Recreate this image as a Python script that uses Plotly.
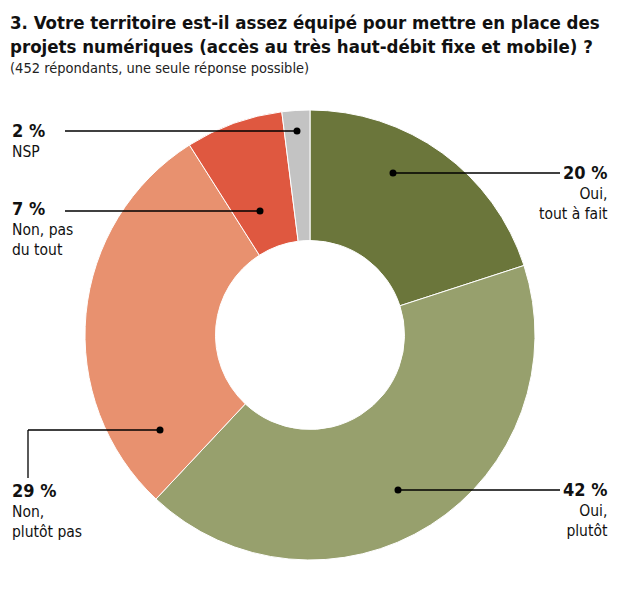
import plotly.graph_objects as go

labels = ["Oui, tout à fait", "Oui, plutôt", "Non, plutôt pas", "Non, pas du tout", "NSP"]
values = [20, 42, 29, 7, 2]
colors = ["#6b763b", "#97a06d", "#e8916f", "#df5840", "#c3c3c3"]

W, H = 640, 598
OFF = 8
def px(x, y):
    return (x - OFF) / W, 1 - (y - OFF) / H

fig = go.Figure(go.Pie(values=values, labels=labels, sort=False, direction="clockwise",
                       rotation=0, hole=0.42, marker=dict(colors=colors, line=dict(color="white", width=1)),
                       textinfo="none", hoverinfo="label+percent",
                       domain=dict(x=[px(85, 0)[0], px(535, 0)[0]], y=[px(0, 560)[1], px(0, 110)[1]])))

shapes, ann = [], []
FONT = "DejaVu Sans Condensed"
def line(pts, dot):
    for (x0, y0), (x1, y1) in zip(pts[:-1], pts[1:]):
        a, b = px(x0, y0); c, d = px(x1, y1)
        shapes.append(dict(type="line", xref="paper", yref="paper", x0=a, y0=b, x1=c, y1=d,
                           line=dict(color="black", width=1.3)))
    x, y = dot
    a, b = px(x - 3.5, y - 3.5); c, d = px(x + 3.5, y + 3.5)
    shapes.append(dict(type="circle", xref="paper", yref="paper", x0=a, y0=b, x1=c, y1=d,
                       fillcolor="black", line=dict(width=0)))

def label(x, y, pct, txt, align):
    xa, ya = px(x, y)
    ann.append(dict(xref="paper", yref="paper", x=xa, y=ya, xanchor=align, yanchor="top",
                    align=align, showarrow=False,
                    text=f"<b><span style='font-size:18px'>{pct} %</span></b><br>{txt}",
                    font=dict(family=FONT, size=15.5, color="#111")))

line([(65, 131), (297, 131)], (297, 131)); label(10, 118, values[4], "NSP", "left")
line([(65, 211), (260, 211)], (260, 211)); label(10, 196, values[3], "Non, pas<br>du tout", "left")
line([(28, 478), (28, 430), (160, 430)], (160, 430)); label(10, 478, values[2], "Non,<br>plutôt pas", "left")
line([(560, 173), (393, 173)], (393, 173)); label(610, 160, values[0], "Oui,<br>tout à fait", "right")
line([(560, 490), (398, 490)], (398, 490)); label(610, 477, values[1], "Oui,<br>plutôt", "right")

ann.append(dict(xref="paper", yref="paper", x=px(8, 10)[0], y=px(8, 10)[1], xanchor="left", yanchor="top",
                align="left", showarrow=False,
                text="<b>3. Votre territoire est-il assez équipé pour mettre en place des<br>projets numériques (accès au très haut-débit fixe et mobile) ?</b>",
                font=dict(family=FONT, size=18.5, color="#111")))
ann.append(dict(xref="paper", yref="paper", x=px(8, 58)[0], y=px(8, 58)[1], xanchor="left", yanchor="top",
                showarrow=False, text="(452 répondants, une seule réponse possible)",
                font=dict(family=FONT, size=14.5, color="#222")))

fig.update_layout(width=W, height=H, margin=dict(l=0, r=0, t=0, b=0), showlegend=False,
                  paper_bgcolor="white", shapes=shapes, annotations=ann)
fig.write_html("out.html")
